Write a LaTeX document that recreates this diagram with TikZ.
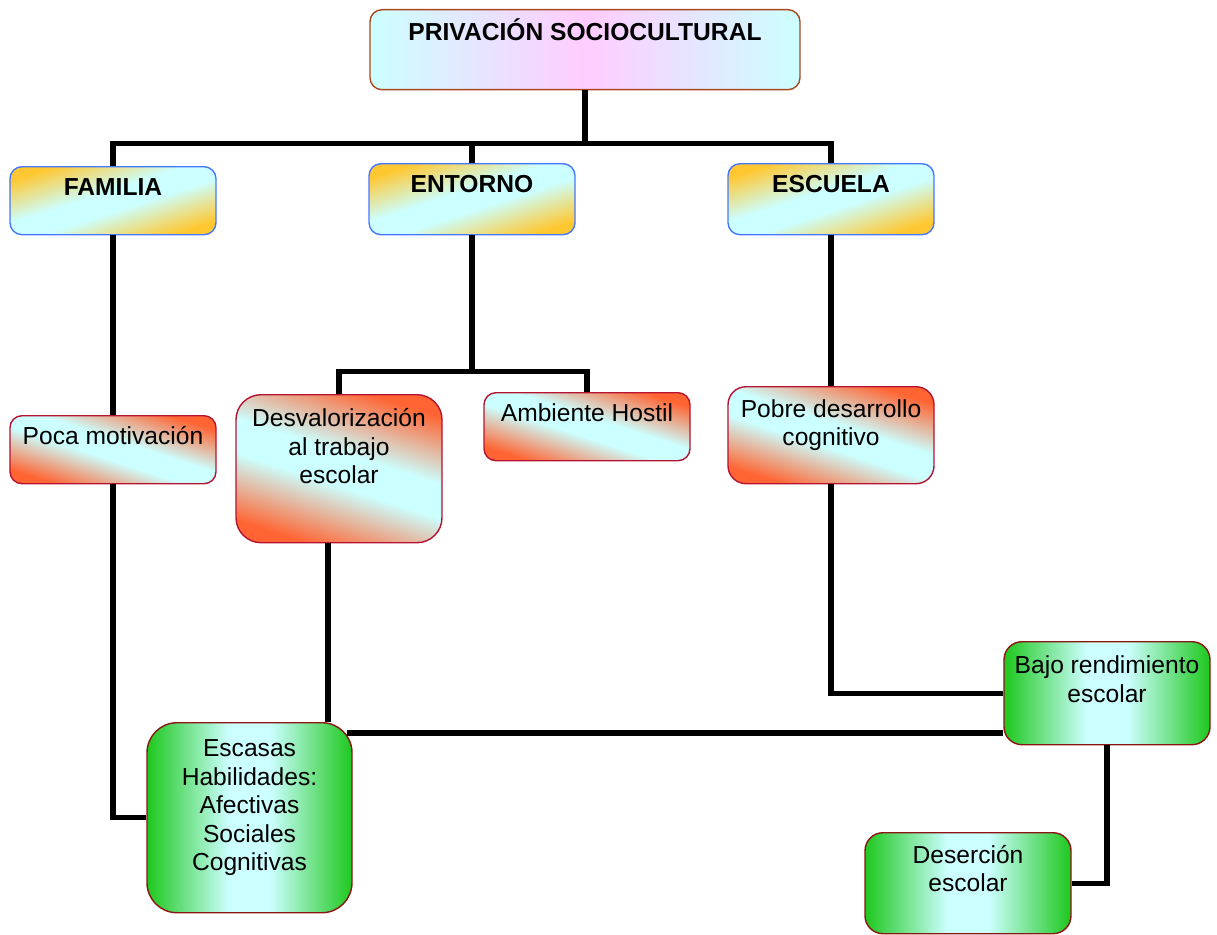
\documentclass[tikz,border=0pt]{standalone}
\usepackage{fontspec}
\setmainfont{Liberation Sans}
\usetikzlibrary{positioning}

\definecolor{cian}{RGB}{204,255,255}
\definecolor{rosa}{RGB}{255,204,255}
\definecolor{naranja}{RGB}{255,200,50}
\definecolor{rojo}{RGB}{255,100,50}
\definecolor{verde}{RGB}{30,200,30}
\definecolor{bordemarron}{RGB}{170,70,30}
\definecolor{bordeazul}{RGB}{70,120,255}
\definecolor{bordecarmin}{RGB}{180,20,50}
\definecolor{bordeverde}{RGB}{140,20,20}

\pgfdeclarehorizontalshading{rosashade}{100bp}{color(0bp)=(cian); color(25bp)=(cian); color(50bp)=(rosa); color(75bp)=(cian); color(100bp)=(cian)}
\pgfdeclareverticalshading{naranjashade}{100bp}{color(0bp)=(naranja); color(25bp)=(naranja); color(45bp)=(cian); color(55bp)=(cian); color(75bp)=(naranja); color(100bp)=(naranja)}
\pgfdeclareverticalshading{rojoshade}{100bp}{color(0bp)=(rojo); color(25bp)=(rojo); color(45bp)=(cian); color(55bp)=(cian); color(75bp)=(rojo); color(100bp)=(rojo)}
\pgfdeclarehorizontalshading{verdeshade}{100bp}{color(0bp)=(verde); color(25bp)=(verde); color(45bp)=(cian); color(55bp)=(cian); color(75bp)=(verde); color(100bp)=(verde)}

\newcommand{\cuadro}[4][5pt]{\parbox[c][#3][t]{#2}{\centering\vspace*{#1}\strut #4}}

\tikzset{
  caja/.style={inner sep=0pt, anchor=north, line width=0.8pt,
    font=\fontsize{14}{16.2}\selectfont},
  titulo/.style={caja, draw=bordemarron, rounded corners=0.24cm,
    shading=rosashade, font=\fontsize{14}{16.2}\selectfont\bfseries},
  area/.style={caja, draw=bordeazul, rounded corners=0.24cm,
    shading=naranjashade, shading angle=18, font=\fontsize{14}{16.2}\selectfont\bfseries},
  causa/.style={caja, draw=bordecarmin, rounded corners=0.24cm,
    shading=rojoshade, shading angle=-18},
  efecto/.style={caja, draw=bordeverde, rounded corners=0.36cm, shading=verdeshade},
  linea/.style={line width=3pt}
}

\begin{document}
\begin{tikzpicture}
  \useasboundingbox (0,0) rectangle (24.34,-18.68);

  \node [titulo] (priv) at (11.70,-0.18) {\cuadro{8.6cm}{1.6cm}{PRIVACIÓN SOCIOCULTURAL}};
  \node [area] (familia) at (2.26,-3.32) {\cuadro{4.12cm}{1.36cm}{FAMILIA}};
  \node [area] (entorno) at (9.44,-3.26) {\cuadro{4.12cm}{1.42cm}{ENTORNO}};
  \node [area] (escuela) at (16.62,-3.26) {\cuadro{4.12cm}{1.42cm}{ESCUELA}};

  \node [causa] (poca) at (2.26,-8.30) {\cuadro{4.12cm}{1.36cm}{Poca motivación}};
  \node [causa, rounded corners=0.5cm] (desval) at (6.78,-7.88)
    {\cuadro[7pt]{4.12cm}{2.96cm}{Desvalorización\\al trabajo\\escolar}};
  \node [causa] (ambiente) at (11.74,-7.84) {\cuadro{4.12cm}{1.36cm}{Ambiente Hostil}};
  \node [causa, rounded corners=0.36cm] (pobre) at (16.62,-7.72)
    {\cuadro[6pt]{4.12cm}{1.94cm}{Pobre desarrollo\\cognitivo}};

  \node [efecto] (bajo) at (22.14,-12.82) {\cuadro[7pt]{4.12cm}{2.06cm}{Bajo rendimiento\\escolar}};
  \node [efecto, rounded corners=0.6cm] (escasas) at (4.99,-14.44)
    {\cuadro[8pt]{4.10cm}{3.80cm}{Escasas\\Habilidades:\\Afectivas\\Sociales\\Cognitivas}};
  \node [efecto] (desercion) at (19.36,-16.64) {\cuadro[6pt]{4.12cm}{2.02cm}{Deserción\\escolar}};

  % ramas principales
  \draw [linea] (priv.south) -- ++(0,-1.06) coordinate (cruce) -| (familia.north);
  \draw [linea] (cruce) -| (entorno.north);
  \draw [linea] (cruce) -| (escuela.north);

  \draw [linea] (familia.south) -- (poca.north);
  \draw [linea] (poca.south) |- (escasas.west);

  \draw [linea] (entorno.south) -- ++(0,-2.72) coordinate (rama) -| (desval.north);
  \draw [linea] (rama) -| (ambiente.north);
  \draw [linea] ([xshift=-0.22cm]desval.south) -- ([xshift=-0.22cm]desval.south |- escasas.north);

  \draw [linea] (escuela.south) -- (pobre.north);
  \draw [linea] (pobre.south) |- (bajo.west);

  % consecuencias
  \draw [linea] ([xshift=-0.12cm,yshift=-0.22cm]escasas.north east) coordinate (ee) -- (ee -| bajo.west);
  \draw [linea] (bajo.south) |- (desercion.east);
\end{tikzpicture}
\end{document}
